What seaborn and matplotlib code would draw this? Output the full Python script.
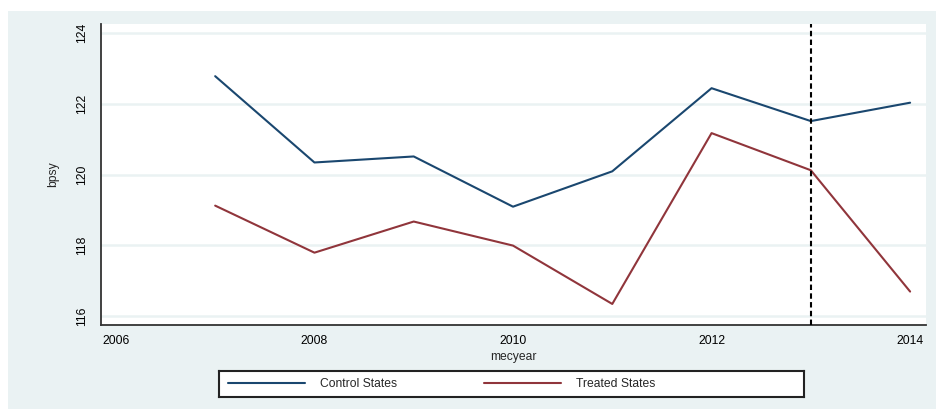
import matplotlib
matplotlib.use("Agg")
import matplotlib.pyplot as plt
from matplotlib.patches import Rectangle
import numpy as np
import pandas as pd
import seaborn as sns

# Mean systolic blood pressure by survey year
years = [2007, 2008, 2009, 2010, 2011, 2012, 2013, 2014]
control = [122.78, 120.34, 120.51, 119.09, 120.09, 122.44, 121.51, 122.03]
treated = [119.12, 117.79, 118.67, 117.99, 116.34, 121.17, 120.12, 116.69]
groups = ["Control States", "Treated States"]
policy_year = 2013
x_ticks = [2006, 2008, 2010, 2012, 2014]
y_ticks = [116, 118, 120, 122, 124]

df = pd.DataFrame({
    "mecyear": years * 2,
    "bpsy": control + treated,
    "group": [groups[0]] * len(years) + [groups[1]] * len(years),
})

sns.set_theme(style="white")
plt.rcParams["font.family"] = ["Liberation Sans", "DejaVu Sans"]

W, H = 936, 409
BG = "#eaf2f3"
NAVY = "#1a476f"
MAROON = "#90353b"
AXC = "#333333"

fig = plt.figure(figsize=(W / 100, H / 100), dpi=100, facecolor="white")
fig.patches.append(Rectangle((8 / W, 0), 1 - 8 / W, 1 - 11 / H,
                             transform=fig.transFigure, facecolor=BG,
                             edgecolor="none", zorder=-10))

def fx(px):
    return px / W

def fy(py):
    return 1 - py / H

ax = fig.add_axes([fx(101), fy(325), fx(926) - fx(101), fy(24) - fy(325)])
ax.set_facecolor("white")

sns.lineplot(data=df, x="mecyear", y="bpsy", hue="group",
             palette=[NAVY, MAROON], linewidth=1.5, ax=ax, zorder=3)
handles, labels = ax.get_legend_handles_labels()
ax.get_legend().remove()

ax.axvline(policy_year, color="black", linewidth=1.5,
           linestyle=(0, (2.6, 1.6)), zorder=4)

ax.set_xlim(2005.85, 2014.16)
ax.set_ylim(115.745, 124.255)
ax.set_xticks(x_ticks)
ax.set_yticks(y_ticks)
ax.grid(axis="y", color=BG, linewidth=1.8, zorder=1)
ax.grid(axis="x", visible=False)

for side in ["top", "right"]:
    ax.spines[side].set_visible(False)
for side in ["left", "bottom"]:
    ax.spines[side].set_color(AXC)
    ax.spines[side].set_linewidth(1.3)

ax.tick_params(axis="both", which="major", direction="out", color=AXC,
               width=1.1, labelsize=8.7, labelcolor="black")
ax.tick_params(axis="x", length=5, pad=2)
ax.tick_params(axis="y", length=6.5, pad=3)
ax.set_yticklabels([str(t) for t in y_ticks], rotation=90, va="center")
ax.set_xticklabels([str(t) for t in x_ticks])
ax.set_xlabel("mecyear", fontsize=8.7, labelpad=3)
ax.set_ylabel("bpsy", fontsize=8.7, labelpad=12)

# Legend in its own framed box below the plot
lax = fig.add_axes([fx(219), fy(397), fx(804) - fx(219), fy(371) - fy(397)])
lax.set_facecolor("white")
lax.set_xticks([])
lax.set_yticks([])
for s in lax.spines.values():
    s.set_color("#222222")
    s.set_linewidth(1.5)
lax.legend(handles, labels, loc="center left", bbox_to_anchor=(0.0, 0.5),
           ncol=2, frameon=False, fontsize=8.7, handlelength=6.4,
           handletextpad=1.2, columnspacing=7.2, borderaxespad=0.0,
           borderpad=0.75)

fig.savefig("out.png", dpi=100, facecolor="white")
